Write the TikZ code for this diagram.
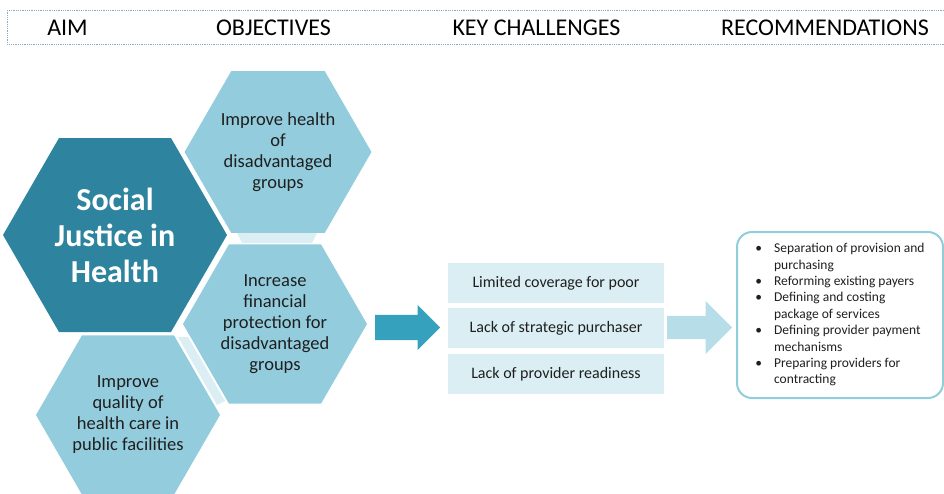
\documentclass[tikz,border=0pt]{standalone}
\usepackage{fontspec}
\setmainfont{Carlito}
\usetikzlibrary{shapes.geometric,shapes.arrows,positioning}
\definecolor{tealdark}{HTML}{2E849E}
\definecolor{teallight}{HTML}{93CDDD}
\definecolor{tealpale}{HTML}{DAEEF3}
\definecolor{tealarrow}{HTML}{36A1BC}
\definecolor{tealarrowb}{HTML}{B7DEE8}
\definecolor{recborder}{HTML}{92CDDC}
\definecolor{hdrline}{HTML}{8DA7BE}
\definecolor{txt}{HTML}{1F1F1F}

\begin{document}
\begin{tikzpicture}[x=1pt,y=-1pt,
  hex/.style={regular polygon, regular polygon sides=6, inner sep=0pt, align=center},
  hexdark/.style={hex, fill=tealdark, minimum size=224pt, text=white, font=\fontsize{32}{36}\selectfont\bfseries},
  hexlight/.style={hex, fill=teallight, minimum size=184pt, text=txt, font=\fontsize{18.5}{21}\selectfont},
  challenge/.style={fill=tealpale, minimum width=216pt, minimum height=40pt, inner sep=0pt, text=txt, font=\fontsize{16}{19}\selectfont},
  heading/.style={font=\fontsize{24}{28}\selectfont, text height=15.5pt, text depth=0pt},
  blockarrow/.style={single arrow, inner xsep=0pt, single arrow head indent=0pt, minimum height=65pt, anchor=tail}]
\useasboundingbox (0,0) rectangle (944,493);

% header
\node[draw=hdrline, densely dotted, line width=0.8pt, minimum width=940pt, minimum height=34pt, inner sep=0pt, anchor=north west] (hdr) at (7,10) {};
\node[heading] (haim) at (67.5,28) {AIM};
\node[heading] (hobj) at (273.5,28) {OBJECTIVES};
\node[heading] (hkey) at (536.5,28) {KEY CHALLENGES};
\node[heading] (hrec) at (825,28) {RECOMMENDATIONS};

% joints between hexagons
\fill[tealpale] (237,233) -- (317,233) -- (312,243) -- (242,243) -- cycle;
\fill[tealpale] (178,337) -- (188,337) -- (225,401) -- (217,405) -- cycle;

\node[hexdark] (aim) at (115,235) {Social\\Justice in\\Health};
\node[hexlight] (obj1) at (278,152) {Improve health\\of\\disadvantaged\\groups};
\node[hexlight] (obj2) at (275,324) {Increase\\financial\\protection for\\disadvantaged\\groups};
\node[hexlight] (obj3) at (128,415) {Improve\\quality of\\health care in\\public facilities};

\node[blockarrow, fill=tealarrow, inner ysep=12.5pt, single arrow head extend=10pt] (arr1) at (375,327.5) {};

\node[challenge] (ch1) at (556,283) {Limited coverage for poor};
\node[challenge, below=5pt of ch1] (ch2) {Lack of strategic purchaser};
\node[challenge, below=5pt of ch2] (ch3) {Lack of provider readiness};

\node[blockarrow, fill=tealarrowb, inner ysep=11.5pt, single arrow head extend=15pt] (arr2) at (667,327.5) {};

\node[draw=recborder, line width=2pt, rounded corners=15pt, minimum width=206pt, minimum height=166pt, inner sep=0pt, text=txt,
  font=\fontsize{13.5}{16.4}\selectfont] (rec) at (840,315) {\raisebox{-3pt}{%
  \begin{tabular}{@{}l@{\hspace{12pt}}l@{}}
  \textbullet & Separation of provision and\\
   & purchasing\\
  \textbullet & Reforming existing payers\\
  \textbullet & Defining and costing\\
   & package of services\\
  \textbullet & Defining provider payment\\
   & mechanisms\\
  \textbullet & Preparing providers for\\
   & contracting
  \end{tabular}}};

\end{tikzpicture}
\end{document}
